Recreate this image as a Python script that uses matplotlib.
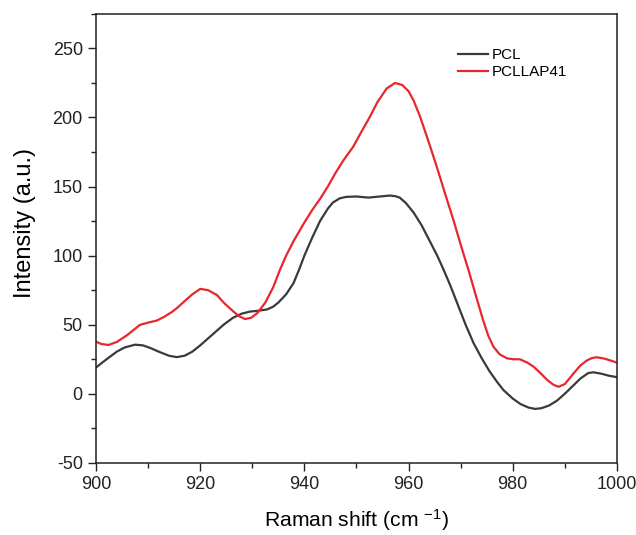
import matplotlib
matplotlib.use("Agg")
import matplotlib.pyplot as plt
from matplotlib.ticker import MultipleLocator

plt.rcParams['font.family'] = ['Liberation Sans', 'DejaVu Sans']
plt.rcParams['mathtext.default'] = 'regular'
plt.rcParams['axes.unicode_minus'] = False

# valores
x_pcl = [900, 901, 902.4, 904, 905.5, 907.5, 909, 910.5, 912, 914, 915.5, 917, 918.5,
         920, 921.5, 923, 924.5, 926.3, 928, 929.6, 931, 932.8, 934, 935, 936.5, 937.9,
         939, 940, 941.5, 943, 944.5, 945.5, 946.8, 948, 950, 952.3, 954.5, 956.4, 957.5,
         958.3, 959.5, 961, 962.5, 964, 965.5, 966.7, 968, 969.5, 971, 972.5, 974, 975.5,
         977, 978.2, 980, 981.5, 983, 984.3, 985.5, 987, 988.5, 990, 991.5, 993, 994.5,
         995.5, 997, 998.5, 1000]
y_pcl = [19, 22, 26, 30.5, 33.5, 35.5, 35, 33, 30.5, 27.5, 26.5, 27.5, 30.5,
         35, 40, 45, 50, 55, 58, 59.5, 60, 61, 63, 66, 72, 80,
         90, 100, 113, 125, 134, 138.5, 141.5, 142.5, 142.8, 142, 142.8, 143.5, 143,
         142, 138, 131, 122, 111, 100, 90, 78.5, 64, 49.5, 36.5, 26, 16.5,
         8.5, 2.7, -3.5, -7.5, -10, -11, -10.5, -8.5, -5, 0, 5.5, 11, 15,
         15.5, 14.5, 13, 12]

x_pcllap = [900, 901, 902.4, 904, 906, 908.4, 910, 911.6, 913, 914.5, 915.5, 917, 918.5,
            920, 921.5, 923.2, 924.5, 926.4, 927.5, 928.6, 929.8, 931, 932.5, 934, 935.3,
            936.5, 938, 940, 941.5, 943, 944.5, 946, 947.5, 949.4, 951, 952.6, 954, 955.8,
            957.4, 958.8, 960, 961, 962.2, 963.8, 965.4, 967, 968.6, 970, 971.5, 973,
            974.3, 975.3, 976.3, 977.5, 978.9, 980, 981.4, 982.8, 984, 985.3, 986.6,
            987.8, 988.8, 990, 991.7, 993, 994.2, 995.2, 996.1, 997.5, 999, 1000]
y_pcllap = [37.7, 36, 35.3, 37.5, 42.5, 49.8, 51.5, 52.9, 55.5, 59, 61.9, 67, 72,
            75.9, 75, 71.5, 66, 59.4, 56, 54.1, 55, 58.5, 66, 77, 89.6,
            100, 111, 124, 133, 141, 150, 160, 169, 179, 190, 200.7, 211, 221,
            225, 223.5, 219, 212, 200.7, 183, 164.5, 145, 125.9, 108, 89.6, 70,
            53.4, 42, 34, 28.5, 25.6, 25, 24.9, 22.5, 19.6, 15, 10,
            6.5, 5, 7, 14.8, 20.5, 24, 25.8, 26.4, 25.5, 23.8, 22.5]

fig = plt.figure(figsize=(6.36, 5.35), dpi=100)
ax = fig.add_axes([0.151, 0.135, 0.819, 0.839])

ax.plot(x_pcl, y_pcl, color='#3a3a3a', lw=1.6, label='PCL')
ax.plot(x_pcllap, y_pcllap, color='#e8262c', lw=1.6, label='PCLLAP41')

ax.set_xlim(900, 1000)
ax.set_ylim(-50, 275)
ax.xaxis.set_major_locator(MultipleLocator(20))
ax.xaxis.set_minor_locator(MultipleLocator(10))
ax.yaxis.set_major_locator(MultipleLocator(50))
ax.yaxis.set_minor_locator(MultipleLocator(25))
ax.tick_params(which='major', direction='out', length=6, width=1, labelsize=13, colors='#222222')
ax.tick_params(which='minor', direction='out', length=3.5, width=1, colors='#222222')
for s in ax.spines.values():
    s.set_linewidth(1.1)
    s.set_color('#222222')

ax.set_xlabel('Raman shift (cm $^{-1}$)', fontsize=15.2, labelpad=10)
ax.set_ylabel('Intensity (a.u.)', fontsize=17)
ax.yaxis.set_label_coords(-0.115, 0.535)

ax.legend(loc='upper right', bbox_to_anchor=(0.93, 0.955), frameon=False, fontsize=11,
          handlelength=2.0, handletextpad=0.2, labelspacing=0.2)

fig.savefig('out.png', dpi=100)
